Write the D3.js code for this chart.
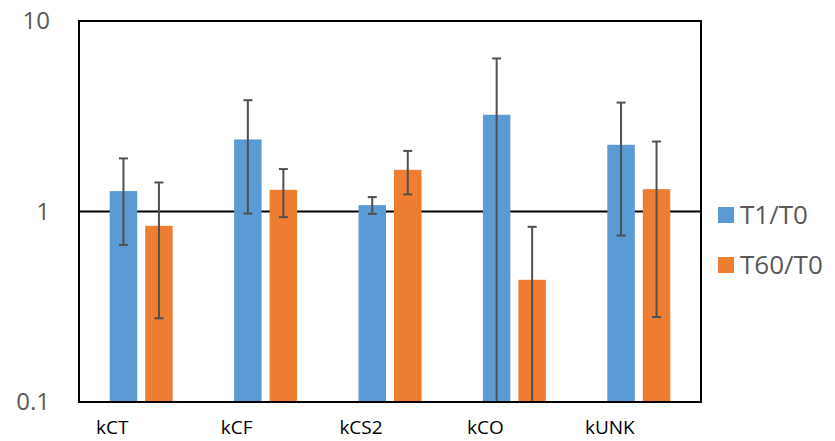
<!DOCTYPE html>
<html><head><meta charset="utf-8">
<script src="https://cdn.jsdelivr.net/npm/d3@7"></script>
<style>body{margin:0;background:#fff}svg{display:block}text{font-family:"Open Sans",sans-serif}</style>
</head><body><div id="chart"></div>
<script>
const categories = ["kCT", "kCF", "kCS2", "kCO", "kUNK"];
const seriesNames = ["T1/T0", "T60/T0"];
const t1Values = [1.28, 2.39, 1.08, 3.22, 2.24];
const t1Upper  = [1.90, 3.84, 1.19, 6.36, 3.73];
const t1Lower  = [0.668, 0.976, 0.972, 0.05, 0.748];
const t60Values = [0.841, 1.30, 1.655, 0.438, 1.31];
const t60Upper  = [1.42, 1.67, 2.08, 0.831, 2.33];
const t60Lower  = [0.275, 0.934, 1.23, 0.05, 0.279];
const yTicks = [0.1, 1, 10];
const colors = ["#5B9BD5", "#ED7D31"];

const W = 835, H = 441;
const m = {left: 79, right: 134, top: 21, bottom: 39};
const svg = d3.select("#chart").append("svg").attr("width", W).attr("height", H);

const x = d3.scaleBand().domain(categories).range([m.left, W - m.right]).padding(0);
const y = d3.scaleLog().domain([0.1, 10]).range([H - m.bottom, m.top]).clamp(true);

const series = [
  {name: seriesNames[0], vals: t1Values, up: t1Upper, lo: t1Lower, color: colors[0]},
  {name: seriesNames[1], vals: t60Values, up: t60Upper, lo: t60Lower, color: colors[1]}
];
const bw = 27.5, gap = 8;
const barX = (i, s) => x(categories[i]) + x.bandwidth() / 2 + (s === 0 ? -gap / 2 - bw : gap / 2);

// reference line at 1
svg.append("line").attr("x1", m.left).attr("x2", W - m.right)
  .attr("y1", y(1)).attr("y2", y(1)).attr("stroke", "#000").attr("stroke-width", 2);

series.forEach((s, si) => {
  const g = svg.append("g");
  g.selectAll("rect").data(s.vals).join("rect")
    .attr("x", (d, i) => barX(i, si)).attr("width", bw)
    .attr("y", d => y(d)).attr("height", d => y(0.1) - y(d))
    .attr("fill", s.color);
});

series.forEach((s, si) => {
  const g = svg.append("g").attr("stroke", "#505050").attr("stroke-width", 2);
  s.vals.forEach((v, i) => {
    const cx = barX(i, si) + bw / 2;
    const yt = y(s.up[i]), yb = y(s.lo[i]);
    g.append("line").attr("x1", cx).attr("x2", cx).attr("y1", yt).attr("y2", yb);
    g.append("line").attr("x1", cx - 4.5).attr("x2", cx + 4.5).attr("y1", yt).attr("y2", yt);
    if (s.lo[i] >= 0.1) g.append("line").attr("x1", cx - 4.5).attr("x2", cx + 4.5).attr("y1", yb).attr("y2", yb);
  });
});

// frame
svg.append("rect").attr("x", m.left).attr("y", m.top)
  .attr("width", W - m.right - m.left).attr("height", H - m.bottom - m.top)
  .attr("fill", "none").attr("stroke", "#000").attr("stroke-width", 2);

// y axis labels
const yAxis = d3.axisLeft(y).tickValues(yTicks).tickFormat(d3.format("~g")).tickSize(0).tickPadding(29);
const ya = svg.append("g").attr("transform", `translate(${m.left},0)`).call(yAxis);
ya.select(".domain").remove();
ya.selectAll("text").attr("font-size", 24).attr("fill", "#595959").attr("font-family", "Open Sans");

// x axis labels
const xAxis = d3.axisBottom(x).tickSize(0).tickPadding(19);
const xa = svg.append("g").attr("transform", `translate(-29,${H - m.bottom})`).call(xAxis);
xa.select(".domain").remove();
xa.selectAll("text").attr("font-size", 19).attr("fill", "#000").attr("font-family", "Open Sans");

// legend
const lg = svg.append("g").attr("transform", "translate(718,207)");
seriesNames.forEach((n, i) => {
  lg.append("rect").attr("x", 0).attr("y", i * 50).attr("width", 16).attr("height", 16).attr("fill", colors[i]);
  lg.append("text").attr("x", 22).attr("y", i * 50 + 17).attr("font-size", 26).attr("fill", "#595959").text(n);
});
</script></body></html>
